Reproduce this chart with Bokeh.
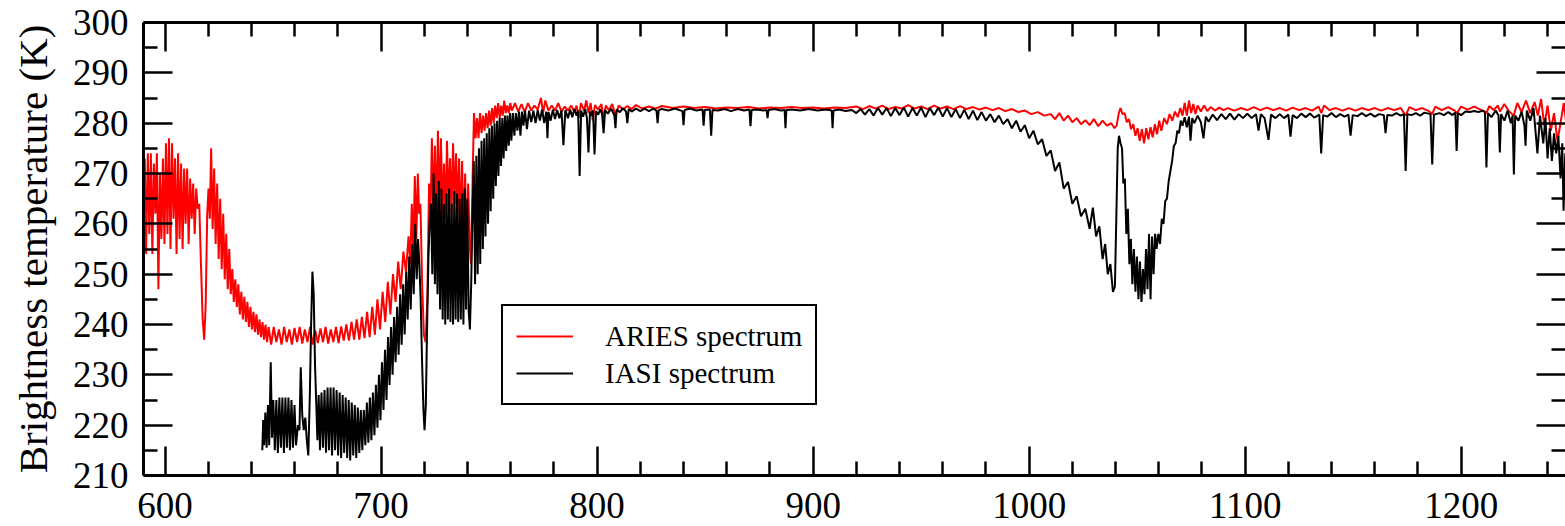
from bokeh.plotting import figure
from bokeh.models import LinearAxis, FixedTicker, Range1d
from bokeh.embed import file_html
from bokeh.resources import INLINE

# ---------------- data (wavenumber cm-1, brightness temperature K) ----------------
aries_co2_band = [
    (590.2, 266), (590.6, 273), (591.2, 254), (592.0, 274), (592.7, 258), (593.4, 274),
    (594.1, 254), (594.8, 272), (595.5, 262), (596.2, 274), (596.9, 247), (597.6, 270),
    (598.3, 257), (599.0, 273), (599.7, 256), (600.4, 276), (601.1, 258), (601.8, 277),
    (602.5, 255), (603.2, 276), (603.9, 261), (604.6, 273), (605.3, 254), (606.0, 274),
    (606.7, 257), (607.4, 272), (608.1, 255), (608.8, 271), (609.5, 260), (610.2, 271),
    (610.9, 256), (611.6, 269), (612.3, 261), (613.0, 268), (613.7, 258), (614.4, 267),
    (615.1, 263), (615.8, 264), (616.6, 252), (617.4, 241), (618.1, 237), (618.8, 244),
    (619.5, 262), (620.1, 267), (620.7, 261), (621.3, 275), (622.0, 259), (622.7, 271),
    (623.4, 256), (624.1, 268), (624.8, 253), (625.5, 265), (626.2, 251), (626.9, 262),
    (627.6, 249), (628.3, 258), (629.0, 247), (629.7, 255), (630.4, 246), (631.1, 251),
    (631.8, 244.5), (632.5, 249), (633.2, 243.5), (633.9, 248), (634.6, 242), (635.3, 246.5),
    (636.0, 241), (636.7, 245.5), (637.4, 240.5), (638.1, 244.5), (638.8, 239.5), (639.5, 243.5),
    (640.2, 239), (640.9, 242.5), (641.6, 238.5), (642.3, 242), (643.0, 238), (643.7, 241),
    (644.4, 237.5), (645.1, 240.5), (645.8, 237), (646.5, 240), (647.2, 236.5), (647.9, 239.5),
]
aries_trough = [
    (649.1, 236), (650.3, 239.5), (651.5, 236.5), (652.7, 239), (653.9, 236), (655.1, 239.5),
    (656.3, 236.5), (657.5, 239), (658.7, 236), (659.9, 239.3), (661.1, 236.5), (662.3, 239.5),
    (663.5, 236.2), (664.7, 239), (665.9, 236.5), (667.1, 239.5), (668.3, 236), (669.5, 238.8),
    (670.7, 236.3), (671.9, 239.2), (673.1, 236.5), (674.3, 239.5), (675.5, 236.2), (676.7, 239),
    (677.9, 236.5), (679.1, 239.5), (680.3, 236.3), (681.5, 239.6), (682.7, 236.8), (683.9, 240),
    (685.1, 236.8), (686.3, 240.5), (687.5, 237), (688.7, 241), (689.9, 237), (691.1, 241.5),
    (692.3, 237.3), (693.5, 242.5), (694.7, 237.5), (695.9, 243.5), (697.1, 238), (698.3, 245),
    (699.5, 239), (700.7, 246.5), (701.9, 240.5), (703.1, 248.5), (704.3, 242), (705.5, 250),
    (706.7, 244.5), (707.9, 252.5), (709.1, 247), (710.3, 254.5), (711.5, 250.5), (712.7, 257.5),
]
aries_edge = [
    (713.5, 252), (714.2, 264), (714.9, 254), (715.6, 269.5), (716.3, 257), (717.0, 270),
    (717.6, 262), (718.2, 264), (719.0, 248), (719.8, 238), (720.6, 236.5), (721.4, 245),
    (722.2, 268), (722.9, 262), (723.5, 277), (724.2, 262), (724.9, 275.5), (725.6, 261),
    (726.3, 278.5), (727.0, 263), (727.7, 277), (728.4, 261), (729.1, 272), (729.8, 261),
    (730.5, 276.5), (731.2, 263), (731.9, 273), (732.6, 262), (733.3, 276), (734.0, 264),
    (734.7, 274), (735.4, 262), (736.1, 273), (736.8, 258), (737.5, 272.5), (738.2, 256),
    (738.9, 270), (739.6, 253), (740.3, 268), (741.0, 256), (741.6, 252), (742.4, 270),
    (743.0, 282), (743.7, 277), (744.4, 281), (745.1, 277), (745.8, 282), (746.5, 278),
    (747.2, 281.5), (747.9, 278.5), (748.6, 282), (749.3, 279), (750.0, 282.5), (750.7, 279.5),
    (751.4, 283), (752.1, 280), (752.8, 283.5), (753.5, 281), (754.2, 284), (754.9, 281),
    (755.6, 283.5), (756.3, 281.5), (757.0, 284.5), (757.7, 282), (758.4, 283.5), (759.1, 282),
    (759.8, 284), (760.5, 282.5),
]
aries_window = [
    (762, 284), (763.5, 282.3), (765, 283.8), (766.5, 282.2), (768, 284), (769.5, 282.5),
    (771, 283.5), (772.5, 282.7), (774, 285), (775, 282), (776, 284.5), (777.5, 282.5),
    (779, 283.5), (780.5, 282.5), (782, 284), (783.5, 282.3), (785, 283.3), (786.5, 282.5),
    (788, 283.5), (789.5, 282.2), (790.5, 283.5), (791.5, 281), (792.5, 284), (794, 282.5),
    (795, 284.5), (796, 282), (797, 284), (798, 280.5), (799, 283.6), (800.5, 282.7),
    (802, 283.8), (803, 281), (804, 283.5), (805.5, 282.6), (807, 283.8), (808.5, 281.5),
    (810, 283.5), (812, 282.7), (814, 283.4), (816, 282.8), (818, 283.6), (821, 282.9),
    (824, 283.3), (827, 282.9), (830, 283.4), (835, 283), (840, 283.3), (845, 283),
    (850, 283.2), (855, 282.9), (860, 283.1), (865, 283), (870, 283.2), (875, 282.9),
    (880, 283.1), (885, 283), (890, 283.2), (895, 283), (900, 283.1), (905, 282.9),
    (910, 283.1), (915, 283), (920, 283.3), (923, 282.8), (926, 283.4), (929, 282.9),
    (932, 283.5), (935, 282.8), (938, 283.2), (941, 282.9), (944, 283.6), (947, 282.9),
    (950, 283.3), (953, 282.8), (956, 283.5), (959, 282.9), (962, 283.3), (965, 282.8),
    (968, 283.4), (971, 282.8), (974, 283.2), (977, 282.7), (980, 283.1), (983, 282.6),
    (986, 283), (989, 282.4), (992, 282.8), (995, 282.2), (998, 282.5), (1001, 281.8),
    (1004, 282.2), (1007, 281.5), (1010, 281.8), (1012, 280.8), (1014, 282), (1016, 280.5),
    (1018, 281.5), (1020, 280.2), (1022, 281), (1024, 279.8), (1026, 280.6), (1028, 279.6),
    (1030, 280.8), (1032, 279.4), (1034, 280.5), (1036, 279.5), (1038, 280), (1039.5, 279),
    (1040.5, 279.5), (1041.5, 282), (1042.3, 283), (1043.2, 281.8), (1044.2, 282), (1045.2, 280.2),
    (1046.2, 280.8), (1047.2, 278.8), (1048.2, 279.8), (1049.2, 277.5), (1050.2, 279), (1051.2, 276.5),
    (1052.2, 278.8), (1053.2, 276), (1054.2, 279), (1055.2, 276.8), (1056.2, 279.2), (1057.2, 277.2),
    (1058.2, 279.8), (1059.2, 277.8), (1060.2, 280.5), (1061.2, 278.5), (1062.5, 281), (1063.8, 279.8),
    (1065, 281.8), (1066.3, 280.5), (1067.5, 282.3), (1068.8, 281.2), (1070, 283), (1071, 281.5),
    (1072, 284), (1073, 281.5), (1074, 284.5), (1075, 282), (1076, 283.8), (1077, 281.8),
    (1078, 283.5), (1079.5, 282.3), (1081, 283.5), (1082.5, 282.4), (1084, 283.2), (1086, 282.5),
    (1088, 283.1), (1090, 282.6), (1092, 283), (1095, 282.5), (1098, 283), (1101, 282.6),
    (1104, 283.2), (1107, 282.6), (1110, 283.1), (1113, 282.6), (1116, 283), (1119, 282.5),
    (1122, 283.1), (1125, 282.6), (1128, 283), (1131, 282.5), (1134, 283.3), (1135.3, 282),
    (1136.5, 283.5), (1139, 282.6), (1142, 283), (1145, 282.5), (1148, 283), (1151, 282.5),
    (1154, 283), (1157, 282.6), (1160, 283), (1163, 282.5), (1166, 283), (1169, 282.6),
    (1172, 283), (1174.3, 281.5), (1176, 283.2), (1179, 282.6), (1182, 283), (1185, 282.4),
    (1186.6, 281.8), (1188, 283.3), (1191, 282.6), (1194, 283.2), (1197, 282.5), (1198, 282),
    (1200, 283.3), (1203, 282.7), (1206, 283.3), (1209, 282.7), (1211.7, 282), (1213, 283.4),
    (1215, 282.6), (1217, 283.5), (1218, 282.3), (1220, 283.8), (1222, 282.4), (1224.3, 281.5),
    (1226, 284), (1228, 282.2), (1230, 284.5), (1232, 282), (1234, 284.2), (1235.5, 281.5),
    (1237, 284.8), (1238.5, 279.5), (1240, 283.5), (1241.5, 278.5), (1243, 282), (1244.6, 276.5),
    (1246, 280), (1247.5, 284), (1248.5, 280.5), (1249.5, 283),
]

iasi_co2_band = [
    (645.0, 215), (645.4, 221), (645.8, 216), (646.4, 222.5), (647.0, 215.5), (647.6, 224),
    (648.2, 216), (648.9, 232.5), (649.5, 217.5), (650.1, 225), (650.8, 215), (651.5, 225),
    (652.2, 214.5), (652.9, 225.5), (653.6, 215.5), (654.3, 225.5), (655.0, 214.5), (655.7, 225.5),
    (656.4, 215.5), (657.1, 225.5), (657.8, 215), (658.5, 225), (659.2, 215.5), (659.9, 224),
    (660.6, 216), (661.5, 220), (662.2, 219), (662.8, 231.5), (663.5, 222), (664.2, 219),
    (664.9, 221.5), (665.6, 217), (666.3, 214), (667.0, 226), (667.6, 240), (668.2, 250.5),
    (668.8, 246), (669.4, 232), (670.0, 224), (670.5, 217), (671.1, 226), (671.7, 215),
    (672.4, 226.5), (673.1, 215.5), (673.8, 227), (674.5, 214.5), (675.2, 227.5), (675.9, 215),
    (676.6, 227.5), (677.3, 214), (678.0, 227.5), (678.7, 215), (679.4, 227), (680.1, 214),
    (680.8, 226.5), (681.5, 213.5), (682.2, 226), (682.9, 214.5), (683.6, 225.5), (684.3, 213.5),
    (685.0, 225), (685.7, 213), (686.4, 224.5), (687.1, 214), (687.8, 224), (688.5, 213.5),
    (689.2, 223.5), (689.9, 214.5), (690.6, 223), (691.3, 215), (692.0, 223), (692.7, 216),
    (693.4, 224.5), (694.1, 216.5), (694.8, 225.5), (695.5, 217), (696.2, 226.5), (696.9, 218),
    (697.6, 228), (698.3, 219.5), (699.0, 230), (699.7, 221), (700.4, 232.5), (701.1, 223),
    (701.8, 235), (702.5, 225), (703.2, 237.5), (703.9, 228), (704.6, 239.5), (705.3, 230),
    (706.0, 241.5), (706.7, 232.5), (707.4, 243.5), (708.1, 234), (708.8, 246), (709.5, 236),
    (710.2, 248), (710.9, 238), (711.6, 250.5), (712.3, 241), (713.0, 253.5), (713.7, 243),
    (714.4, 256), (715.1, 246), (715.8, 260), (716.5, 249), (717.1, 257), (717.7, 252),
    (718.3, 245), (719.0, 232), (719.6, 223), (720.1, 219),
]
iasi_edge = [
    (720.7, 224), (721.3, 240), (721.9, 253), (722.5, 261), (723.1, 264), (723.7, 250),
    (724.3, 270), (724.9, 248), (725.5, 266), (726.1, 246), (726.7, 268.5), (727.3, 243),
    (727.9, 267), (728.5, 241), (729.1, 264), (729.7, 240), (730.3, 266), (730.9, 241),
    (731.5, 267), (732.1, 240.5), (732.7, 264), (733.3, 240), (733.9, 266.5), (734.5, 241),
    (735.1, 266), (735.7, 240.5), (736.3, 265), (736.9, 241), (737.5, 266), (738.1, 240),
    (738.7, 267), (739.3, 243), (739.9, 265), (740.5, 243), (741.1, 239), (741.7, 248),
    (742.3, 262), (742.9, 272.5), (743.5, 248), (744.1, 273.5), (744.7, 250), (745.3, 275),
    (745.9, 252), (746.5, 276.5), (747.1, 255), (747.7, 277), (748.3, 257.5), (748.9, 278),
    (749.5, 260), (750.1, 279), (750.7, 262.5), (751.3, 279.5), (751.9, 265), (752.5, 280),
    (753.1, 267.5), (753.7, 280.5), (754.3, 269.5), (754.9, 281), (755.5, 271.5), (756.1, 281),
    (756.7, 273), (757.3, 281.5), (757.9, 274.5), (758.5, 281.5), (759.1, 275.5), (759.7, 282),
    (760.3, 276.5), (761.0, 282), (761.7, 277.5), (762.4, 282), (763.1, 278.5), (763.8, 282.3),
    (764.5, 277.5), (765.2, 282.3), (765.9, 279.5), (766.6, 282.5), (767.5, 278.8), (768.5, 282.5),
    (769.5, 280.2),
]
iasi_window = [
    (770.5, 282.5), (771.5, 280), (772.5, 282.6), (773.5, 280.5), (774.5, 282.7), (775.5, 280),
    (776.5, 282.3), (777, 277), (777.5, 282.2), (778.5, 280.5), (779.5, 282.7), (780.5, 280.8),
    (781.5, 282.6), (782.5, 281), (783.5, 282.5), (784.4, 275.6), (785.3, 282.6), (786.5, 281),
    (787.5, 282.7), (788.5, 281.2), (789.5, 282.8), (790.5, 281.5), (791.2, 282.5), (791.9, 269.5),
    (792.6, 282.5), (793.5, 281.3), (794.5, 282.8), (795.3, 281), (796, 274.2), (796.7, 282.3),
    (797.5, 281.5), (798.1, 282.5), (798.8, 273.8), (799.5, 282.4), (800.5, 281.7), (801.5, 282.8),
    (802.3, 281.8), (803, 278), (803.7, 282.6), (805, 281.9), (806.5, 282.9), (808, 281.5),
    (808.5, 279), (809, 282.7), (810.5, 282.2), (812, 283), (813.4, 282.3), (814, 280),
    (814.6, 282.8), (816, 282.3), (818, 282.9), (820, 282.4), (822, 282.9), (824, 282.4),
    (826, 282.9), (827.5, 282.5), (828, 280), (828.5, 282.6), (830, 282.8), (833, 282.5),
    (836, 282.9), (839.5, 282.4), (840, 279.6), (840.5, 282.6), (843, 282.9), (846, 282.5),
    (848.8, 282.7), (849.3, 279.5), (849.8, 282.6), (852.2, 282.7), (852.8, 277.5), (853.4, 282.6),
    (856, 282.5), (859, 282.8), (862, 282.4), (865, 282.8), (868, 282.5), (870.5, 282.7),
    (871, 279.4), (871.5, 282.6), (874, 282.7), (877, 282.5), (878.5, 282.6), (878.9, 281),
    (879.3, 282.6), (882, 282.8), (885, 282.5), (886.8, 282.6), (887.2, 279), (887.6, 282.6),
    (890, 282.7), (894, 282.5), (898, 282.8), (902, 282.5), (906, 282.7), (908.6, 282.5),
    (909, 279), (909.4, 282.5), (912, 282.7), (915, 282.4), (918, 282.6), (920, 282),
    (922, 282.8), (924, 281.7), (926, 282.8), (928, 281.5), (930, 283), (932, 281.7),
    (934, 283), (936, 281.4), (938, 283), (940, 281.6), (942, 283.1), (944, 281.3),
    (946, 283), (948, 281.5), (950, 283.1), (952, 281.2), (954, 283), (956, 281.6),
    (958, 283.1), (960, 281.3), (962, 283), (964, 281.2), (966, 282.8), (968, 281),
    (970, 282.7), (972, 280.8), (974, 282.5), (976, 280.6), (978, 282.2), (980, 280.5),
    (982, 281.8), (984, 280.2), (986, 281.5), (988, 279.8), (990, 280.8), (992, 279),
    (994, 280.5), (996, 278.3), (998, 279.6),
]
iasi_ozone = [
    (1000, 277), (1002, 278.5), (1004, 275.8), (1006, 276.8), (1008, 273.5), (1010, 274.6),
    (1012, 270.5), (1014, 272.2), (1016, 267), (1018, 268.3), (1020, 264), (1022, 265.5),
    (1024, 261.5), (1026, 263), (1028, 259), (1029.5, 263.2), (1031, 257.5), (1032.5, 259.5),
    (1034, 253), (1035.2, 256), (1036.4, 250), (1037.6, 252), (1038.8, 246.5), (1039.7, 247.5),
    (1040.3, 260), (1041.0, 275), (1041.6, 277.5), (1042.3, 276), (1043.0, 275), (1043.6, 268),
    (1044.3, 269), (1045, 258), (1045.7, 263), (1046.4, 252), (1047.1, 257), (1047.8, 248),
    (1048.5, 255), (1049.2, 246.5), (1049.9, 253.5), (1050.6, 245), (1051.3, 252.5), (1052, 244.5),
    (1052.7, 251), (1053.4, 246), (1054.1, 255), (1054.8, 247), (1055.5, 258), (1056.2, 245),
    (1056.9, 257.5), (1057.6, 250), (1058.3, 258), (1059, 255), (1059.8, 258), (1060.6, 256),
    (1061.4, 261), (1062.2, 260), (1063, 264.5), (1063.8, 265), (1064.6, 268.5), (1065.4, 270.5),
    (1066.2, 272.5), (1067, 275.5), (1067.8, 276), (1068.6, 278.5), (1069.4, 278), (1070.2, 280.5),
    (1071, 279.5), (1072, 281.2), (1073, 279.2), (1074, 281.3), (1074.7, 276.5), (1075.5, 281),
    (1076.5, 280), (1078, 281.5), (1079.5, 280.2),
]
iasi_window2 = [
    (1080.7, 277), (1081.8, 281.3), (1083, 280.3), (1085, 281.7), (1087, 280.6), (1089, 281.8),
    (1091, 280.8), (1093, 281.9), (1095, 280.7), (1097, 281.8), (1099, 281), (1101, 281.9),
    (1103, 281), (1105, 281.8), (1106.2, 278.5), (1107.3, 281.8), (1109, 281), (1110.8, 276.7),
    (1112, 281.7), (1114, 281), (1116, 281.8), (1118, 281), (1120, 281.7), (1121, 277.3),
    (1122, 281.6), (1124, 281), (1126, 281.9), (1128, 281.2), (1130, 281.9), (1132, 281.1),
    (1134.3, 281.7), (1135.2, 274), (1136.1, 281.6), (1138, 281.3), (1140, 282), (1142, 281.2),
    (1144, 281.8), (1146, 281.3), (1147.8, 281.7), (1148.8, 277.5), (1149.8, 281.6), (1152, 281.4),
    (1154, 282), (1156, 281.4), (1158, 281.9), (1160, 281.3), (1162, 281.8), (1164.2, 281.6),
    (1165, 278), (1165.8, 281.6), (1168, 281.5), (1170, 282), (1172, 281.5), (1173.5, 281.8),
    (1174.3, 270.5), (1175.1, 281.8), (1177, 281.6), (1179, 282), (1181, 281.5), (1183, 282.1),
    (1185.8, 281.8), (1186.6, 271.8), (1187.4, 281.7), (1190, 282), (1192, 281.6), (1194, 282.2),
    (1196, 281.6), (1197.3, 282.1), (1197.9, 274.5), (1198.5, 282), (1200, 281.6), (1202, 282.3),
    (1204, 282.2), (1206, 282.4), (1208, 282.2), (1210, 282.5), (1211, 282.3), (1211.7, 271.2),
    (1212.4, 282), (1214, 281.2), (1216, 282.5), (1217.3, 281.5), (1217.9, 274.2), (1218.5, 281.8),
    (1220, 280.5), (1221.5, 282.5), (1223, 280), (1223.8, 281.5), (1224.4, 269.8), (1225, 281.5),
    (1226.5, 280.5), (1228, 282.3), (1229.3, 279.5), (1229.8, 275.5), (1230.4, 282.5), (1232, 280.5),
    (1233.5, 283), (1235.3, 274), (1236.5, 281.5), (1238, 276), (1239, 281), (1240, 273),
    (1241, 279), (1242, 272.5), (1243, 278), (1244, 274), (1245, 277.5), (1246, 269),
    (1246.8, 276), (1247.4, 262.6), (1248.2, 274), (1249, 272.5), (1250, 277),
]

series_labels = ["ARIES spectrum", "IASI spectrum"]
series_colors = ["#ff0000", "#000000"]
x_limits = (590, 1248.3)
y_limits = (210, 300)
x_major_ticks = [600, 700, 800, 900, 1000, 1100, 1200]
x_minor_ticks = [620, 640, 660, 680, 720, 740, 760, 780, 820, 840, 860, 880, 920, 940, 960, 980,
                 1020, 1040, 1060, 1080, 1120, 1140, 1160, 1180, 1220, 1240]
y_major_ticks = [210, 220, 230, 240, 250, 260, 270, 280, 290, 300]
y_minor_ticks = [215, 225, 235, 245, 255, 265, 275, 285, 295]
y_title = "Brightness temperature (K)"

aries = aries_co2_band + aries_trough + aries_edge + aries_window
iasi = iasi_co2_band + iasi_edge + iasi_window + iasi_ozone + iasi_window2
aries_wn = [a for a, b in aries]
aries_bt = [b for a, b in aries]
iasi_wn = [a for a, b in iasi]
iasi_bt = [b for a, b in iasi]

FONT = "Liberation Serif"
MAJOR_LEN = 29
MINOR_LEN = 14

p = figure(width=1565, height=526, output_backend="svg", toolbar_location=None,
           x_range=Range1d(*x_limits), y_range=Range1d(*y_limits),
           min_border_left=143, min_border_right=0, min_border_top=22, min_border_bottom=51)
p.outline_line_color = None
p.grid.visible = False
p.background_fill_color = "white"
p.border_fill_color = "white"


def tick_style(ax, line=True):
    ax.major_tick_in = MAJOR_LEN
    ax.major_tick_out = 0
    ax.minor_tick_in = MINOR_LEN
    ax.minor_tick_out = 0
    ax.major_tick_line_width = 2.5
    ax.minor_tick_line_width = 2.5
    ax.major_tick_line_color = "black"
    ax.minor_tick_line_color = "black"
    ax.axis_line_width = 3
    ax.axis_line_color = "black" if line else None


# labelled axes (bottom / left)
xa = p.xaxis[0]
xa.ticker = FixedTicker(ticks=x_major_ticks, minor_ticks=x_minor_ticks)
tick_style(xa)
xa.major_label_text_font = FONT
xa.major_label_text_font_size = "37px"
xa.major_label_text_color = "black"
xa.major_label_standoff = 17

ya = p.yaxis[0]
ya.ticker = FixedTicker(ticks=y_major_ticks, minor_ticks=y_minor_ticks)
tick_style(ya)
ya.major_label_text_font = FONT
ya.major_label_text_font_size = "37px"
ya.major_label_text_color = "black"
ya.major_label_standoff = 15
ya.axis_label = y_title
ya.axis_label_text_font = FONT
ya.axis_label_text_font_size = "41px"
ya.axis_label_text_font_style = "normal"
ya.axis_label_text_color = "black"
ya.axis_label_standoff = 14


# mirrored tick marks (top / right), no labels
def mirror_axes(side, majors, minors, line):
    long_ax = LinearAxis(ticker=FixedTicker(ticks=[], minor_ticks=majors))
    tick_style(long_ax, line=line)
    long_ax.minor_tick_in = MAJOR_LEN
    long_ax.major_label_standoff = 0
    p.add_layout(long_ax, side)
    short_ax = LinearAxis(ticker=FixedTicker(ticks=[], minor_ticks=minors))
    tick_style(short_ax, line=False)
    short_ax.major_label_standoff = 0
    p.add_layout(short_ax, side)


mirror_axes("above", x_major_ticks, x_minor_ticks, True)
mirror_axes("right", y_major_ticks, y_minor_ticks, False)

p.line(aries_wn, aries_bt, line_color=series_colors[0], line_width=2, legend_label=series_labels[0])
p.line(iasi_wn, iasi_bt, line_color=series_colors[1], line_width=2, legend_label=series_labels[1])

lg = p.legend[0]
lg.location = (358, 70)
lg.border_line_color = "black"
lg.border_line_alpha = 1
lg.border_line_width = 2
lg.background_fill_color = "white"
lg.background_fill_alpha = 1
lg.label_text_font = FONT
lg.label_text_font_size = "29px"
lg.label_text_color = "black"
lg.glyph_width = 57
lg.glyph_height = 20
lg.label_height = 34
lg.label_standoff = 32
lg.padding = 13
lg.spacing = 3
lg.margin = 0

open("out.html", "w").write(file_html(p, INLINE))
